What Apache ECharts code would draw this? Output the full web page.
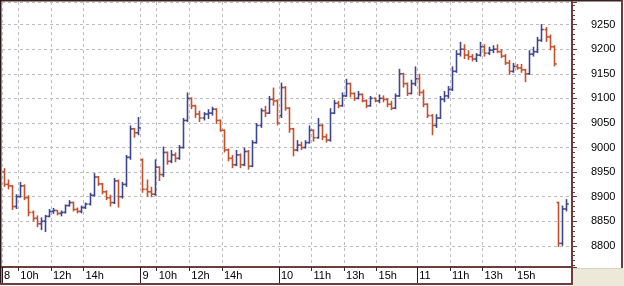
<!DOCTYPE html>
<html><head><meta charset="utf-8">
<script src="https://cdn.jsdelivr.net/npm/echarts@6/dist/echarts.min.js"></script>
<style>html,body{margin:0;padding:0;background:#fff}#c{width:624px;height:286px}</style>
</head><body><div id="c"></div>
<script>
// Sessions (day of month); 15-minute bars from 09:00
const days = ['8', '9', '10', '11', '12'];
const barsPerSession = [34, 34, 34, 34, 4];

// OHLC bars: [open, high, low, close]
const day8 = [
 [8950,8958,8920,8925],[8925,8935,8915,8922],[8922,8924,8873,8880],[8880,8905,8875,8900],
 [8900,8930,8898,8922],[8922,8925,8893,8898],[8898,8903,8860,8868],[8868,8872,8850,8856],
 [8856,8862,8838,8845],[8845,8858,8832,8850],[8850,8863,8828,8860],[8860,8875,8858,8870],
 [8870,8877,8865,8872],[8872,8873,8862,8866],[8866,8872,8860,8868],[8868,8884,8866,8882],
 [8882,8893,8880,8888],[8888,8890,8870,8874],[8874,8878,8866,8870],[8870,8882,8866,8878],
 [8878,8888,8875,8885],[8885,8908,8882,8903],[8903,8948,8900,8940],[8940,8942,8922,8926],
 [8926,8928,8905,8910],[8910,8913,8893,8898],[8898,8904,8880,8888],[8888,8938,8885,8932],
 [8932,8935,8878,8900],[8900,8930,8896,8925],[8925,8985,8920,8980],[8980,9045,8975,9038],
 [9038,9040,9020,9030],[9030,9062,9025,9040]
];
const day9 = [
 [8975,8978,8908,8915],[8915,8935,8900,8910],[8910,8920,8899,8905],[8905,8976,8902,8960],
 [8960,8962,8932,8945],[8945,9002,8940,8990],[8990,8992,8965,8972],[8972,8995,8968,8985],
 [8985,8990,8970,8978],[8978,9005,8975,9000],[9000,9060,8998,9055],[9055,9112,9052,9100],
 [9100,9102,9078,9085],[9085,9087,9060,9068],[9068,9075,9052,9060],[9060,9072,9055,9068],
 [9068,9078,9058,9070],[9070,9083,9065,9078],[9078,9080,9048,9055],[9055,9057,9032,9035],
 [9035,9037,8990,8995],[8995,8998,8972,8978],[8978,8985,8958,8965],[8965,8995,8962,8985],
 [8985,8988,8958,8965],[8965,9000,8962,8992],[8992,8995,8955,8962],[8962,9015,8960,9010],
 [9010,9050,9008,9045],[9045,9080,9040,9075],[9075,9085,9062,9070],[9070,9105,9068,9098],
 [9098,9122,9085,9095],[9095,9098,9045,9050]
];
const day10 = [
 [9065,9132,9060,9122],[9122,9125,9075,9080],[9080,9082,9030,9038],[9038,9040,8982,8995],
 [8995,9015,8992,9005],[9005,9012,8995,9000],[9000,9015,8998,9010],[9010,9045,9008,9035],
 [9035,9037,9012,9020],[9020,9060,9018,9045],[9045,9048,9015,9022],[9022,9028,9010,9015],
 [9015,9080,9012,9070],[9070,9097,9068,9090],[9090,9095,9080,9085],[9085,9112,9083,9105],
 [9105,9140,9103,9130],[9130,9132,9102,9110],[9110,9112,9095,9100],[9100,9115,9098,9108],
 [9108,9110,9092,9095],[9095,9098,9080,9085],[9085,9105,9083,9100],[9100,9102,9092,9095],
 [9095,9108,9090,9100],[9100,9106,9092,9098],[9098,9100,9082,9088],[9088,9095,9076,9080],
 [9080,9110,9078,9105],[9105,9160,9103,9150],[9150,9152,9122,9130],[9130,9132,9105,9110],
 [9110,9138,9108,9130],[9130,9165,9125,9140]
];
const day11 = [
 [9140,9150,9105,9112],[9112,9118,9082,9088],[9088,9090,9060,9065],[9065,9068,9025,9045],
 [9045,9068,9040,9060],[9060,9105,9058,9098],[9098,9115,9092,9105],[9105,9125,9100,9118],
 [9118,9165,9115,9155],[9155,9198,9152,9190],[9190,9215,9185,9200],[9200,9210,9180,9188],
 [9188,9198,9178,9185],[9185,9190,9175,9180],[9180,9192,9174,9188],[9188,9215,9185,9205],
 [9205,9210,9185,9192],[9192,9205,9188,9198],[9198,9208,9192,9200],[9200,9210,9192,9195],
 [9195,9200,9182,9186],[9186,9190,9168,9172],[9172,9178,9148,9155],[9155,9172,9152,9165],
 [9165,9170,9158,9162],[9162,9170,9152,9158],[9158,9160,9133,9150],[9150,9198,9148,9190],
 [9190,9205,9185,9195],[9195,9225,9192,9218],[9218,9251,9215,9240],[9240,9245,9215,9225],
 [9225,9230,9198,9205],[9205,9208,9165,9170]
];
const day12 = [
 [8888,8890,8798,8805],[8805,8882,8800,8875],[8875,8895,8870,8885]
];

// x-axis tick labels keyed by category
const tickLabels = [
 ['8 09:00','8'],['8 10:00','10h'],['8 12:00','12h'],['8 14:00','14h'],
 ['9 09:00','9'],['9 10:00','10h'],['9 12:00','12h'],['9 14:00','14h'],
 ['10 09:00','10'],['10 11:00','11h'],['10 13:00','13h'],['10 15:00','15h'],
 ['11 09:00','11'],['11 11:00','11h'],['11 13:00','13h'],['11 15:00','15h']
];
const sessionStarts = ['8 09:00','9 09:00','10 09:00','11 09:00'];

const yMin = 8757, yMax = 9296;

const sessions = [day8, day9, day10, day11, day12];
const categories = [];
const data = [];
days.forEach(function (d, di) {
  for (let k = 0; k < barsPerSession[di]; k++) {
    const m = 9 * 60 + 15 * k;
    const cat = d + ' ' + String(Math.floor(m / 60)).padStart(2, '0') + ':' + String(m % 60).padStart(2, '0');
    const bar = sessions[di][k];
    if (bar) data.push([categories.length].concat(bar));
    categories.push(cat);
  }
});
const labelMap = {};
tickLabels.forEach(function (t) { labelMap[t[0]] = t[1]; });

const RED = '#c4502c', BLUE = '#3e4690';
const FRAME = '#6e3c3c';
const FONT = 'Liberation Sans, Arial, sans-serif';

const chart = echarts.init(document.getElementById('c'), null, { renderer: 'canvas' });
chart.setOption({
  animation: false,
  backgroundColor: '#ffffff',
  grid: { left: 2, right: 52, top: 2, bottom: 19, outerBoundsMode: 'none', containLabel: false },
  xAxis: [{
    type: 'category', data: categories, boundaryGap: true,
    axisLine: { show: true, lineStyle: { color: FRAME, width: 2 } },
    axisTick: { show: true, length: 4, lineStyle: { color: '#3a2a2a' },
      interval: function (i, v) { return labelMap[v] !== undefined && sessionStarts.indexOf(v) < 0; } },
    axisLabel: { show: true, interval: function (i, v) { return labelMap[v] !== undefined; },
      formatter: function (v) { return labelMap[v] || ''; },
      align: 'left', margin: 3, color: '#000', fontSize: 11, fontFamily: FONT, padding: [0,0,0,0] },
    splitLine: { show: true, interval: function (i, v) { return labelMap[v] !== undefined; },
      lineStyle: { color: '#bcbcbc', type: [3, 3], width: 1 } }
  }, {
    type: 'category', data: categories, boundaryGap: true, gridIndex: 0, position: 'bottom',
    axisLine: { show: false },
    axisTick: { show: true, length: 17, lineStyle: { color: '#2a1a1a' },
      interval: function (i, v) { return sessionStarts.indexOf(v) >= 0; } },
    axisLabel: { show: false }, splitLine: { show: false }
  }],
  yAxis: {
    type: 'value', position: 'right', min: yMin, max: yMax, splitNumber: 11, scale: true,
    axisLine: { show: true, lineStyle: { color: FRAME, width: 2 } },
    axisTick: { show: true, length: 5, lineStyle: { color: FRAME } },
    minorTick: { show: true, splitNumber: 5, length: 3, lineStyle: { color: FRAME } },
    axisLabel: { margin: 19, color: '#000', fontSize: 11, fontFamily: FONT,
      showMinLabel: false, showMaxLabel: false,
      formatter: function (v) { return (v % 50 === 0) ? String(v) : ''; } },
    splitLine: { show: true, lineStyle: { color: '#bcbcbc', type: [3, 3], width: 1 } }
  },
  series: [{
    type: 'custom',
    xAxisIndex: 0,
    encode: { x: 0, y: [1, 2, 3, 4] },
    data: data,
    renderItem: function (params, api) {
      const idx = api.value(0);
      const x = api.coord([idx, api.value(1)])[0];
      const oY = api.coord([idx, api.value(1)])[1];
      const hY = api.coord([idx, api.value(2)])[1];
      const lY = api.coord([idx, api.value(3)])[1];
      const cY = api.coord([idx, api.value(4)])[1];
      const col = api.value(4) >= api.value(1) ? BLUE : RED;
      const xr = Math.round(x) + 0.5;
      const st = { stroke: col, lineWidth: 1.6 };
      return { type: 'group', children: [
        { type: 'line', shape: { x1: xr, y1: hY, x2: xr, y2: lY }, style: st },
        { type: 'line', shape: { x1: xr - 2, y1: oY, x2: xr, y2: oY }, style: st },
        { type: 'line', shape: { x1: xr, y1: cY, x2: xr + 2.2, y2: cY }, style: st }
      ] };
    }
  }],
  graphic: [
    { type: 'rect', shape: { x: 573, y: 269, width: 51, height: 17 }, style: { fill: '#ece9d8' }, z: 100 },
    { type: 'line', shape: { x1: 0, y1: 0.5, x2: 623, y2: 0.5 }, style: { stroke: '#3a2020', lineWidth: 2 }, z: 100 },
    { type: 'line', shape: { x1: 0.5, y1: 0, x2: 0.5, y2: 285 }, style: { stroke: '#2a1a1a', lineWidth: 2 }, z: 100 },
    { type: 'line', shape: { x1: 622, y1: 0, x2: 622, y2: 268 }, style: { stroke: FRAME, lineWidth: 2 }, z: 100 },
    { type: 'line', shape: { x1: 572, y1: 268.5, x2: 623, y2: 268.5 }, style: { stroke: '#d8d4c4', lineWidth: 1 }, z: 100 },
    { type: 'line', shape: { x1: 0, y1: 284, x2: 573, y2: 284 }, style: { stroke: FRAME, lineWidth: 2 }, z: 100 },
    { type: 'line', shape: { x1: 572, y1: 266, x2: 572, y2: 285 }, style: { stroke: FRAME, lineWidth: 2 }, z: 100 }
  ]
});
</script></body></html>
